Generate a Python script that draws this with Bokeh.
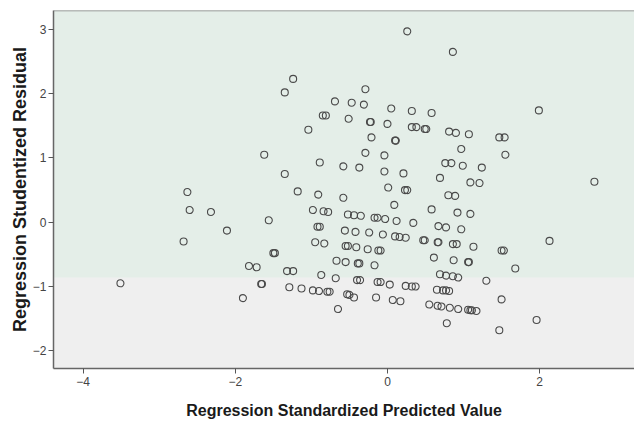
from bokeh.plotting import figure
from bokeh.models import FixedTicker, BoxAnnotation, Span, ColumnDataSource
from bokeh.embed import file_html
from bokeh.resources import INLINE

# Regression Standardized Predicted Value
predicted = [0.26, 0.86, -1.24, -0.29, -1.35, -0.69, -0.47, -0.31, 0.05, 0.32,
             0.58, 1.99, -0.85, -0.81, -0.51, -0.23, -0.22, 0.00, 0.32, 0.38,
             0.49, 0.51, -1.04, 0.81, 0.90, 1.07, 1.47, 1.54, -0.21, 0.10,
             0.11, 0.97, -0.29, -0.04, 1.55, -1.62, -0.89, -0.58, -0.37, 0.76,
             0.84, 0.99, 1.24, -1.35, -0.04, 0.21, 0.69, 1.09, 1.21, 2.72,
             0.01, 0.23, 0.26, -2.63, -1.18, -0.91, -0.58, 0.80, 0.89, 0.09,
             0.58, -2.60, -0.98, -0.84, -0.78, -2.32, 0.92, 1.09, -0.52, -0.44,
             -0.35, -0.17, -0.13, -0.03, 0.12, -1.56, 0.34, -0.92, -0.89, 0.67,
             0.77, 0.97, -0.56, -0.42, -0.24, -2.11, -0.06, 0.10, 0.16, 0.24,
             -2.68, -0.95, -0.83, 0.47, 0.49, 0.66, 0.67, 0.86, 0.91, 1.13,
             2.13, -0.55, -0.52, -0.41, -0.26, -0.12, -0.09, 1.50, 1.53, -1.50,
             -1.48, 0.61, 0.87, -0.67, -0.55, -0.39, -0.37, -0.17, 1.06, 1.07,
             -1.82, -1.72, 1.68, -1.32, -1.24, 0.69, 0.77, 0.86, 0.93, -0.87,
             -0.68, -0.40, -0.36, -0.13, -0.09, 0.03, 1.30, -3.51, -1.66, -1.65,
             0.24, 0.32, 0.37, -1.29, -1.13, -0.98, -0.90, -0.79, -0.76, 0.65,
             0.73, 0.77, 0.81, -0.53, -0.50, -0.44, -0.15, -1.90, 0.07, 0.17,
             1.50, 0.55, 0.66, 0.71, 0.82, 0.93, 1.06, 1.09, 1.11, 1.17,
             -0.65, 0.78, 1.96, 1.47]

# Regression Studentized Residual
residual = [2.97, 2.65, 2.23, 2.07, 2.02, 1.88, 1.86, 1.83, 1.77, 1.73,
            1.70, 1.74, 1.66, 1.66, 1.61, 1.56, 1.56, 1.53, 1.48, 1.48,
            1.45, 1.45, 1.44, 1.41, 1.39, 1.37, 1.32, 1.32, 1.32, 1.27,
            1.27, 1.14, 1.08, 1.04, 1.05, 1.05, 0.93, 0.87, 0.85, 0.92,
            0.92, 0.88, 0.85, 0.75, 0.79, 0.76, 0.69, 0.62, 0.61, 0.63,
            0.54, 0.50, 0.50, 0.47, 0.48, 0.43, 0.38, 0.42, 0.41, 0.27,
            0.20, 0.19, 0.19, 0.17, 0.16, 0.16, 0.15, 0.13, 0.12, 0.11,
            0.10, 0.07, 0.07, 0.05, 0.02, 0.03, -0.01, -0.07, -0.07, -0.06,
            -0.08, -0.11, -0.13, -0.15, -0.16, -0.13, -0.19, -0.22, -0.23, -0.24,
            -0.30, -0.31, -0.33, -0.28, -0.28, -0.31, -0.31, -0.34, -0.34, -0.38,
            -0.29, -0.37, -0.37, -0.39, -0.42, -0.44, -0.44, -0.44, -0.44, -0.48,
            -0.48, -0.55, -0.59, -0.60, -0.62, -0.64, -0.64, -0.67, -0.62, -0.62,
            -0.68, -0.70, -0.72, -0.76, -0.76, -0.81, -0.83, -0.84, -0.86, -0.82,
            -0.87, -0.90, -0.90, -0.93, -0.93, -0.97, -0.91, -0.95, -0.96, -0.96,
            -0.99, -1.00, -1.00, -1.01, -1.03, -1.06, -1.07, -1.08, -1.08, -1.05,
            -1.06, -1.06, -1.07, -1.12, -1.13, -1.17, -1.17, -1.18, -1.21, -1.23,
            -1.20, -1.28, -1.30, -1.31, -1.33, -1.35, -1.36, -1.37, -1.37, -1.38,
            -1.35, -1.57, -1.52, -1.68]

x_ticks = [-4, -2, 0, 2, 4]
y_ticks = [-2, -1, 0, 1, 2, 3]
x_title = "Regression Standardized Predicted Value"
y_title = "Regression Studentized Residual"

src = ColumnDataSource(dict(x=predicted, y=residual))

p = figure(width=634, height=425, output_backend="svg", toolbar_location=None,
           x_range=(-4.39, 3.247), y_range=(-2.275, 3.294),
           min_border_left=53, min_border_right=0, min_border_top=10,
           min_border_bottom=57, background_fill_color="#e4eee8",
           border_fill_color="white", outline_line_color=None)

p.add_layout(BoxAnnotation(top=-0.86, fill_color="#efefef", fill_alpha=1.0,
                           line_color=None, level="underlay"))
p.add_layout(Span(location=3.294, dimension="width", line_color="#808080",
                  line_width=1.5))

p.scatter("x", "y", source=src, size=7, fill_color=None,
          line_color="#4a4a4a", line_width=1.1)

p.grid.visible = False
p.xaxis.ticker = FixedTicker(ticks=x_ticks)
p.yaxis.ticker = FixedTicker(ticks=y_ticks)
for ax in (p.xaxis, p.yaxis):
    ax.minor_tick_line_color = None
    ax.major_tick_in = 0
    ax.major_tick_out = 5
    ax.major_tick_line_color = "#555555"
    ax.axis_line_color = "#666666"
    ax.axis_line_width = 1.5
    ax.major_label_text_font = "Arial"
    ax.major_label_text_font_size = "12px"
    ax.major_label_text_color = "#444444"
    ax.axis_label_text_font = "Arial"
    ax.axis_label_text_font_style = "bold"
    ax.axis_label_text_color = "#1a1a1a"
    ax.major_label_standoff = 3

p.xaxis.axis_label = x_title
p.xaxis.axis_label_text_font_size = "16px"
p.xaxis.axis_label_standoff = 13

p.yaxis.axis_label = y_title
p.yaxis.axis_label_text_font_size = "18px"
p.yaxis.axis_label_standoff = 0
p.yaxis.major_label_standoff = 2

open("out.html", "w").write(file_html(p, INLINE))
